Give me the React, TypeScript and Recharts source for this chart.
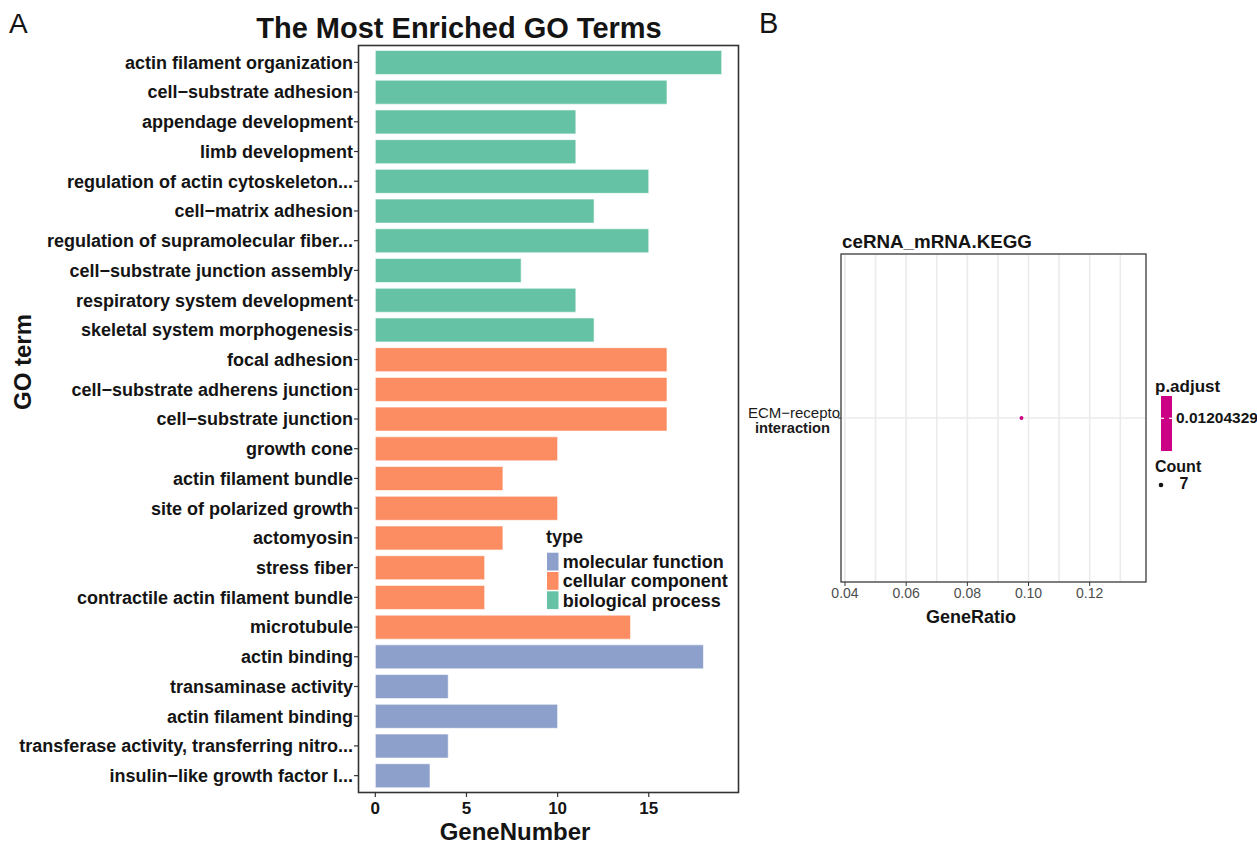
import React from "react";
import {
  BarChart,
  Bar,
  XAxis,
  YAxis,
  Cell,
  Legend,
  ScatterChart,
  Scatter,
  CartesianGrid,
  ZAxis,
} from "recharts";

const FONT = '"Liberation Sans", Arial, Helvetica, sans-serif';
const INK = "#141414";

// ---------- Panel A data ----------
const goTerms = [
  "actin filament organization",
  "cell\u2212substrate adhesion",
  "appendage development",
  "limb development",
  "regulation of actin cytoskeleton...",
  "cell\u2212matrix adhesion",
  "regulation of supramolecular fiber...",
  "cell\u2212substrate junction assembly",
  "respiratory system development",
  "skeletal system morphogenesis",
  "focal adhesion",
  "cell\u2212substrate adherens junction",
  "cell\u2212substrate junction",
  "growth cone",
  "actin filament bundle",
  "site of polarized growth",
  "actomyosin",
  "stress fiber",
  "contractile actin filament bundle",
  "microtubule",
  "actin binding",
  "transaminase activity",
  "actin filament binding",
  "transferase activity, transferring nitro...",
  "insulin\u2212like growth factor I...",
];
const geneNumbers = [19, 16, 11, 11, 15, 12, 15, 8, 11, 12, 16, 16, 16, 10, 7, 10, 7, 6, 6, 14, 18, 4, 10, 4, 3];
const termTypes = [
  "biological process", "biological process", "biological process", "biological process", "biological process",
  "biological process", "biological process", "biological process", "biological process", "biological process",
  "cellular component", "cellular component", "cellular component", "cellular component", "cellular component",
  "cellular component", "cellular component", "cellular component", "cellular component", "cellular component",
  "molecular function", "molecular function", "molecular function", "molecular function", "molecular function",
];
const typeNames = ["molecular function", "cellular component", "biological process"];
const typeColors = ["#8DA0CB", "#FC8D62", "#66C2A5"];
const geneNumberTicks = [0, 5, 10, 15];

// ---------- Panel B data ----------
const keggTerms = ["ECM\u2212receptor interaction"];
const keggGeneRatios = [0.0977];
const keggCounts = [7];
const keggPAdjustLabel = "0.01204329";
const geneRatioTicks = [0.04, 0.06, 0.08, 0.1, 0.12];
const geneRatioGrid = [0.04, 0.05, 0.06, 0.07, 0.08, 0.09, 0.1, 0.11, 0.12, 0.13];
const keggColor = "#CC0085";

const goData = goTerms.map((term, i) => ({ term, count: geneNumbers[i], type: termTypes[i] }));
const keggData = keggTerms.map((term, i) => ({ term, ratio: keggGeneRatios[i], count: keggCounts[i] }));

const colorFor = (t: string) => typeColors[typeNames.indexOf(t)];
const isMajor = (v: number) => geneRatioTicks.some((t) => Math.abs(t - v) < 1e-9);

const TypeLegend = () => (
  <svg width={200} height={95} style={{ display: "block", overflow: "visible" }}>
    <text x={0} y={18} fontFamily={FONT} fontWeight={700} fontSize={18} fill={INK}>
      type
    </text>
    {typeNames.map((name, i) => {
      const ky = 27.7 + i * 19.3;
      return (
        <g key={name}>
          <rect x={1} y={ky} width={11.5} height={17.8} fill={typeColors[i]} />
          <text x={16.7} y={ky + 8.9 + 6.5} fontFamily={FONT} fontWeight={700} fontSize={18} fill={INK}>
            {name}
          </text>
        </g>
      );
    })}
  </svg>
);

const KeggLegend = () => (
  <svg width={102} height={130} style={{ display: "block", overflow: "hidden" }}>
    <text x={0} y={22} fontFamily={FONT} fontWeight={700} fontSize={17} fill={INK}>
      p.adjust
    </text>
    <rect x={6} y={26} width={11} height={55} fill={keggColor} />
    <line x1={6} x2={9} y1={48.3} y2={48.3} stroke="#fff" strokeWidth={1.2} />
    <line x1={14} x2={17} y1={48.3} y2={48.3} stroke="#fff" strokeWidth={1.2} />
    <text x={21} y={53} fontFamily={FONT} fontWeight={700} fontSize={15.5} fill={INK}>
      {keggPAdjustLabel}
    </text>
    <text x={0} y={101.7} fontFamily={FONT} fontWeight={700} fontSize={16} fill={INK}>
      Count
    </text>
    <circle cx={6} cy={115} r={2.3} fill={INK} />
    <text x={29} y={119.3} textAnchor="middle" fontFamily={FONT} fontWeight={700} fontSize={16} fill={INK}>
      {String(keggCounts[0])}
    </text>
  </svg>
);

const KeggTick = (props: any) => {
  const { x, y, payload } = props;
  const words = String(payload.value).split(" ");
  const line1 = words[0];
  const line2 = words.slice(1).join(" ");
  return (
    <g>
      <defs>
        <clipPath id="kegg-ytick-clip">
          <rect x={0} y={y - 25} width={x + 2.5} height={50} />
        </clipPath>
      </defs>
      <g clipPath="url(#kegg-ytick-clip)">
        <text x={x + 7} y={y} textAnchor="end" fontFamily={FONT} fontSize={15} fill="#1a1a1a">
          {line1}
        </text>
      </g>
      <text x={x - 8} y={y + 15} textAnchor="end" fontFamily={FONT} fontWeight={700} fontSize={14.7} fill="#1a1a1a">
        {line2}
      </text>
    </g>
  );
};

const RatioTick = (props: any) => {
  const { x, y, payload } = props;
  const v = Number(payload.value);
  if (!isMajor(v)) return <g />;
  const top = y - 6;
  return (
    <g>
      <line x1={x} x2={x} y1={top} y2={top + 4} stroke="#333" strokeWidth={1} />
      <text x={x} y={top + 6} dy="0.71em" textAnchor="middle" fontFamily={FONT} fontSize={14} fill="#4D4D4D">
        {v.toFixed(2)}
      </text>
    </g>
  );
};

export default function App() {
  return (
    <div
      style={{
        position: "absolute",
        left: 0,
        top: 0,
        width: 1257,
        height: 844,
        background: "#fff",
        overflow: "hidden",
        fontFamily: FONT,
      }}
    >
      <div style={{ position: "absolute", left: 0, top: 0 }}>
        <BarChart
          layout="vertical"
          width={760}
          height={844}
          data={goData}
          margin={{ top: 45, right: 21, bottom: 0, left: 0 }}
          barCategoryGap="10%"
        >
          <XAxis
            type="number"
            dataKey="count"
            domain={[-0.95, 19.95]}
            allowDataOverflow
            ticks={geneNumberTicks}
            height={51}
            tickSize={4}
            tickMargin={5}
            axisLine={false}
            tickLine={{ stroke: "#333", strokeWidth: 1.2 }}
            tick={{ fill: INK, fontSize: 17, fontWeight: 700, fontFamily: FONT }}
          />
          <YAxis
            type="category"
            dataKey="term"
            width={358}
            interval={0}
            padding={{ top: 2.5, bottom: 2.5 }}
            tickSize={4}
            tickMargin={1}
            axisLine={false}
            tickLine={{ stroke: "#333", strokeWidth: 1.2 }}
            tick={{ fill: INK, fontSize: 18, fontWeight: 700, fontFamily: FONT }}
          />
          <Bar dataKey="count" isAnimationActive={false} stroke="#ffffff" strokeWidth={0.6}>
            {goData.map((d, i) => (
              <Cell key={i} fill={colorFor(d.type)} />
            ))}
          </Bar>
          <Legend
            layout="vertical"
            align="center"
            verticalAlign="middle"
            content={() => <TypeLegend />}
            wrapperStyle={{ left: 546, top: 525, width: 200, height: 95 }}
          />
        </BarChart>
      </div>

      <div style={{ position: "absolute", left: 730, top: 0 }}>
        <ScatterChart width={527} height={844} margin={{ top: 254, right: 111, bottom: 232, left: 0 }}>
          <CartesianGrid stroke="#EBEBEB" strokeWidth={1.6} />
          <XAxis
            type="number"
            dataKey="ratio"
            domain={[0.0387, 0.1384]}
            allowDataOverflow
            ticks={geneRatioGrid}
            interval={0}
            height={30}
            tickSize={4}
            tickMargin={2}
            axisLine={false}
            tickLine={false}
            tick={<RatioTick />}
          />
          <YAxis
            type="category"
            dataKey="term"
            width={111}
            tickSize={3}
            tickMargin={0}
            axisLine={false}
            tickLine={{ stroke: "#333", strokeWidth: 1 }}
            tick={<KeggTick />}
          />
          <ZAxis dataKey="count" range={[12, 12]} />
          <Scatter data={keggData} fill={keggColor} isAnimationActive={false} />
          <Legend
            layout="vertical"
            align="center"
            verticalAlign="middle"
            content={() => <KeggLegend />}
            wrapperStyle={{ left: 425, top: 370, width: 102, height: 130 }}
          />
        </ScatterChart>
      </div>

      <svg
        width={1257}
        height={844}
        style={{ position: "absolute", left: 0, top: 0, pointerEvents: "none" }}
      >
        <text x={9} y={33} fontFamily={FONT} fontSize={28} fill={INK}>
          A
        </text>
        <text x={759} y={33} fontFamily={FONT} fontSize={29} fill={INK}>
          B
        </text>
        <text x={459} y={38} textAnchor="middle" fontFamily={FONT} fontWeight={700} fontSize={29} fill={INK}>
          The Most Enriched GO Terms
        </text>
        <text
          transform="translate(31,362) rotate(-90)"
          textAnchor="middle"
          fontFamily={FONT}
          fontWeight={700}
          fontSize={24}
          fill={INK}
        >
          GO term
        </text>
        <text x={515} y={840} textAnchor="middle" fontFamily={FONT} fontWeight={700} fontSize={24} fill={INK}>
          GeneNumber
        </text>
        <rect x={358.5} y={45.5} width={380} height={747} fill="none" stroke="#333" strokeWidth={1.6} />

        <text x={842} y={248} fontFamily={FONT} fontWeight={700} fontSize={18.8} fill={INK}>
          ceRNA_mRNA.KEGG
        </text>
        <text x={971} y={623} textAnchor="middle" fontFamily={FONT} fontWeight={700} fontSize={18} fill={INK}>
          GeneRatio
        </text>
        <rect x={841} y={254} width={305} height={328} fill="none" stroke="#333" strokeWidth={1.2} />
      </svg>
    </div>
  );
}
